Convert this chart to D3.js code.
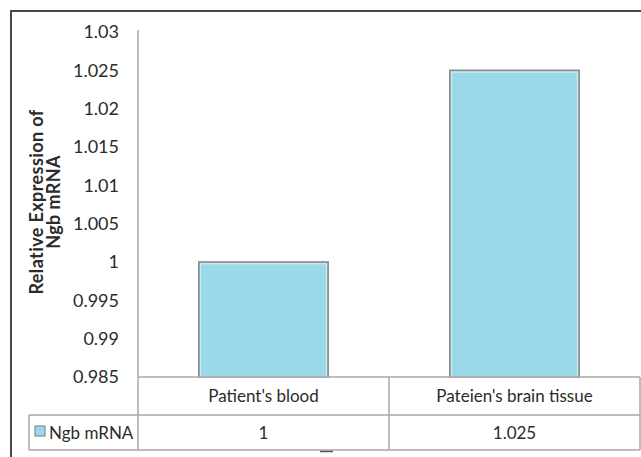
<!DOCTYPE html>
<html>
<head>
<meta charset="utf-8">
<script src="https://cdn.jsdelivr.net/npm/d3@7/dist/d3.min.js"></script>
<style>
  html, body { margin: 0; padding: 0; background: #fff; }
  svg { display: block; }
  text { font-family: Lato, "Open Sans", sans-serif; fill: #2b2b2b; }
</style>
</head>
<body>
<script>
// Data
const categories = ["Patient's blood", "Pateien's brain tissue"];
const seriesName = "Ngb mRNA";
const values = [1, 1.025];
const yTicks = [0.985, 0.99, 0.995, 1, 1.005, 1.01, 1.015, 1.02, 1.025, 1.03];
const yTitle = ["Relative Expression of", "Ngb mRNA"];

const W = 641, H = 457;
const plot = { left: 138, right: 640, top: 32, bottom: 377 };
const tableRows = { catBottom: 415, valBottom: 450, legendLeft: 29 };
const labelSize = 17;

const svg = d3.select("body").append("svg")
  .attr("width", W).attr("height", H);

// Outer chart frame (runs past the right and bottom edges)
svg.append("rect")
  .attr("x", 11).attr("y", 11)
  .attr("width", 700).attr("height", 500)
  .attr("fill", "none").attr("stroke", "#4a4a4a").attr("stroke-width", 2);

const x = d3.scaleBand()
  .domain(categories)
  .range([plot.left, plot.right])
  .paddingInner(0).paddingOuter(0);

const y = d3.scaleLinear()
  .domain([yTicks[0], yTicks[yTicks.length - 1]])
  .range([plot.bottom, plot.top]);

// Y axis with tick labels only
const yAxis = d3.axisLeft(y)
  .tickValues(yTicks)
  .tickSize(0)
  .tickPadding(19)
  .tickFormat(d => String(+d.toFixed(3)));

const gy = svg.append("g")
  .attr("transform", `translate(${plot.left},0)`)
  .call(yAxis);
gy.select(".domain").remove();
gy.selectAll("text")
  .attr("font-size", 18)
  .attr("fill", "#2b2b2b")
  .style("font-family", "Lato, sans-serif");

// Axis line, extended down through the data table
svg.append("line")
  .attr("x1", plot.left).attr("x2", plot.left)
  .attr("y1", plot.top - 2).attr("y2", tableRows.valBottom)
  .attr("stroke", "#a8a8a8").attr("stroke-width", 1.5);

// Bars
const barW = x.bandwidth() * 0.515;
const bars = svg.append("g");
categories.forEach((c, i) => {
  const bx = x(c) + (x.bandwidth() - barW) / 2;
  const by = y(values[i]);
  const bh = y(yTicks[0]) - by;
  bars.append("rect")
    .attr("x", bx).attr("y", by)
    .attr("width", barW).attr("height", bh)
    .attr("fill", "#9bd8ea")
    .attr("stroke", "#8a8a8a").attr("stroke-width", 1.6);
  bars.append("rect")
    .attr("x", bx + 1.8).attr("y", by + 1.8)
    .attr("width", barW - 3.6).attr("height", bh - 1.8)
    .attr("fill", "none")
    .attr("stroke", "#d6eef6").attr("stroke-width", 1);
});

// Data table beneath the plot
const tbl = svg.append("g")
  .attr("stroke", "#a8a8a8").attr("stroke-width", 1.5).attr("fill", "none");

tbl.append("line")
  .attr("x1", plot.left).attr("x2", plot.right)
  .attr("y1", plot.bottom).attr("y2", plot.bottom);
tbl.append("line")
  .attr("x1", tableRows.legendLeft).attr("x2", plot.right)
  .attr("y1", tableRows.catBottom).attr("y2", tableRows.catBottom);
tbl.append("line")
  .attr("x1", tableRows.legendLeft).attr("x2", plot.right)
  .attr("y1", tableRows.valBottom).attr("y2", tableRows.valBottom);
tbl.append("line")
  .attr("x1", tableRows.legendLeft).attr("x2", tableRows.legendLeft)
  .attr("y1", tableRows.catBottom).attr("y2", tableRows.valBottom);
categories.forEach(c => {
  const xr = x(c) + x.bandwidth();
  tbl.append("line")
    .attr("x1", xr).attr("x2", xr)
    .attr("y1", plot.bottom).attr("y2", tableRows.valBottom);
});

// Category labels (first table row)
svg.append("g").selectAll("text")
  .data(categories).join("text")
  .attr("x", d => x(d) + x.bandwidth() / 2)
  .attr("y", (plot.bottom + tableRows.catBottom) / 2 + 6)
  .attr("text-anchor", "middle")
  .attr("font-size", labelSize)
  .text(d => d);

// Value labels (second table row)
svg.append("g").selectAll("text")
  .data(values).join("text")
  .attr("x", (d, i) => x(categories[i]) + x.bandwidth() / 2)
  .attr("y", (tableRows.catBottom + tableRows.valBottom) / 2 + 6)
  .attr("text-anchor", "middle")
  .attr("font-size", labelSize)
  .text(d => String(d));

// Legend key in the table
svg.append("rect")
  .attr("x", 35).attr("y", 426)
  .attr("width", 10).attr("height", 10)
  .attr("fill", "#9bd8ea")
  .attr("stroke", "#8a8a8a").attr("stroke-width", 1.2);
svg.append("text")
  .attr("x", 49).attr("y", (tableRows.catBottom + tableRows.valBottom) / 2 + 6)
  .attr("font-size", labelSize)
  .text(seriesName);

// Short dark mark under the table
svg.append("line")
  .attr("x1", 320).attr("x2", 333)
  .attr("y1", 451.5).attr("y2", 451.5)
  .attr("stroke", "#555").attr("stroke-width", 1.5);

// Y axis title, two lines, rotated
const title = svg.append("text")
  .attr("transform", "translate(0,202) rotate(-90)")
  .attr("text-anchor", "middle")
  .attr("font-size", 18)
  .attr("font-weight", "bold")
  .attr("letter-spacing", 0.4);
yTitle.forEach((t, i) => {
  title.append("tspan")
    .attr("x", 0)
    .attr("y", 43 + i * 17)
    .text(t);
});
</script>
</body>
</html>
